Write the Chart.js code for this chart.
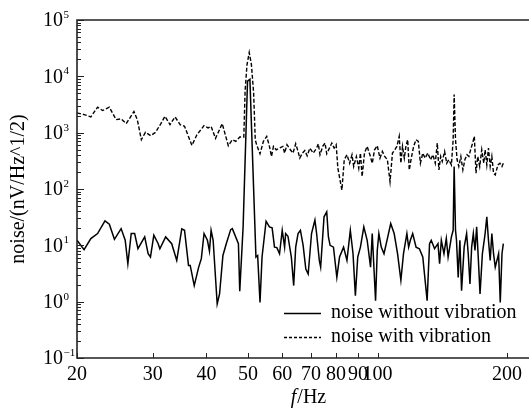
<!DOCTYPE html>
<html>
<head>
<meta charset="utf-8">
<script src="https://cdn.jsdelivr.net/npm/chart.js@4.4.1/dist/chart.umd.min.js"></script>
<style>
  body { margin: 0; background: #fff; }
  canvas { display: block; }
</style>
</head>
<body>
<canvas id="myChart" width="529" height="408"></canvas>
<script>
'use strict';

// noise without vibration (solid line)
var freqWithout = [20.0, 20.77, 21.54, 22.33, 23.23, 23.78, 24.44, 25.33, 25.89, 26.26, 26.74, 27.23, 27.72, 28.74, 29.27, 29.64, 30.18, 30.89, 31.17, 32.15,
  33.21, 34.12, 35.05, 35.57, 36.34, 36.67, 37.47, 38.37, 38.92, 39.49, 40.21, 40.65, 41.01, 41.46, 42.37, 42.91, 43.69, 44.48, 45.54, 45.95,
  47.47, 47.81, 48.68, 49.84, 50.48, 52.14, 52.62, 53.29, 53.87, 55.05, 56.05, 56.86, 57.59, 58.32, 59.16, 60.02, 60.79, 61.12, 61.89, 63.02,
  63.82, 64.51, 65.33, 66.16, 67.13, 68.10, 68.97, 70.22, 71.50, 72.15, 73.20, 73.73, 75.08, 76.17, 76.86, 77.56, 78.97, 80.41, 81.58, 83.36,
  84.88, 86.43, 87.69, 88.80, 89.93, 91.24, 92.90, 94.59, 96.32, 97.19, 98.94, 99.84, 100.7, 102.0, 103.5, 105.4, 107.3, 109.3, 111.3, 113.3,
  114.9, 117.0, 118.1, 119.2, 120.7, 122.9, 125.1, 127.4, 130.4, 132.1, 133.3, 135.7, 138.2, 139.4, 140.7, 142.7, 144.5, 145.9, 147.2, 148.5,
  149.9, 150.7, 151.8, 152.6, 154.0, 155.4, 156.8, 159.0, 161.1, 162.5, 164.0, 165.5, 167.0, 168.5, 170.0, 171.6, 173.1, 175.3, 177.9, 179.5,
  181.1, 182.8, 184.4, 186.1, 187.8, 189.5, 191.2, 192.9, 194.7, 196.1];
var noiseWithout = [12.3, 8.4, 13.2, 16.2, 27.2, 23.7, 12.8, 19.8, 12.3, 4.7, 16.2, 16.2, 8.7, 14.1, 7.1, 6.2, 15.1, 10.7, 8.7, 14.1,
  10.7, 5.4, 19.6, 18.5, 4.4, 4.4, 1.93, 4.1, 5.8, 16.2, 12.3, 7.9, 18.5, 12.3, 0.91, 1.37, 6.6, 10.7, 19.0, 19.8,
  10.7, 1.53, 21.3, 8200, 8840, 6.2, 6.6, 0.97, 6.2, 26.8, 21.3, 20.4, 9.3, 9.1, 7.1, 18.5, 9.3, 16.2, 14.5, 6.2,
  1.93, 9.3, 16.2, 18.5, 10.0, 3.8, 3.1, 16.2, 28.0, 16.2, 5.4, 4.1, 32.1, 39.4, 14.1, 10.0, 9.3, 2.7, 6.2, 9.3,
  5.4, 18.5, 7.1, 1.28, 6.2, 9.3, 21.3, 12.3, 4.1, 16.2, 1.04, 8.1, 16.2, 9.3, 7.1, 13.2, 24.4, 16.2, 7.1, 2.4,
  7.1, 16.2, 9.3, 12.3, 16.2, 9.3, 8.7, 6.2, 1.04, 10.7, 12.3, 8.7, 10.7, 4.7, 12.3, 7.1, 13.2, 6.2, 9.3, 14.1,
  18.5, 251, 18.5, 12.3, 2.7, 12.3, 1.57, 9.3, 16.2, 7.1, 2.07, 9.3, 16.2, 8.1, 21.3, 5.4, 1.37, 7.1, 16.2, 32.1,
  12.3, 5.4, 16.2, 7.1, 4.1, 5.4, 7.1, 0.97, 7.1, 10.7];

// noise with vibration (dashed line)
var freqWith = [20.0, 20.77, 21.54, 22.33, 22.94, 23.78, 24.66, 25.33, 26.03, 27.13, 27.62, 28.23, 28.85, 29.69, 30.45, 31.34, 32.03, 32.91, 33.81, 34.74,
  35.57, 37.0, 38.02, 39.49, 40.35, 41.01, 41.99, 43.53, 44.97, 45.95, 46.79, 47.81, 48.86, 49.2, 49.7, 50.3, 50.9, 51.5, 51.95, 52.33,
  53.29, 54.26, 55.24, 56.05, 56.66, 57.27, 58.11, 59.16, 60.24, 60.79, 61.56, 62.68, 63.59, 64.51, 65.33, 65.93, 66.88, 67.73, 68.60, 69.59,
  70.86, 72.15, 72.81, 73.47, 74.54, 75.49, 76.17, 77.28, 78.26, 79.26, 80.12, 80.85, 82.61, 83.66, 84.88, 86.12, 87.21, 88.00, 89.28, 90.42,
  91.24, 92.07, 93.24, 94.59, 95.97, 97.19, 98.41, 99.84, 101.3, 102.6, 103.9, 105.4, 106.9, 108.3, 109.7, 110.9, 112.3, 113.3, 114.3, 115.4,
  116.4, 117.5, 118.5, 119.6, 121.3, 122.9, 124.4, 125.8, 127.4, 129.0, 130.9, 132.8, 134.5, 136.2, 137.7, 138.9, 140.2, 141.4, 143.2, 144.8,
  146.4, 148.5, 149.9, 150.7, 151.8, 153.1, 154.5, 156.2, 157.9, 159.6, 161.4, 163.1, 164.6, 166.4, 167.9, 169.4, 171.0, 172.8, 174.7, 176.6,
  177.9, 179.5, 181.1, 182.8, 184.4, 186.1, 187.8, 190.5, 192.6, 194.7, 196.1];
var noiseWith = [2245, 2096, 1905, 2835, 2472, 2835, 1707, 1754, 1448, 2371, 1707, 750, 1014, 884, 1014, 1448, 1957, 1390, 1905, 1390,
  1298, 594, 921, 1334, 1212, 1298, 792, 1448, 586, 750, 700, 837, 837, 5500, 16000, 26460, 16000, 5000, 750, 611,
  422, 700, 860, 570, 378, 570, 497, 532, 570, 434, 611, 497, 434, 636, 464, 353, 434, 484, 388, 532,
  434, 532, 636, 405, 570, 654, 422, 532, 654, 532, 611, 234, 96, 330, 405, 287, 405, 251, 378, 234,
  434, 166, 434, 570, 405, 287, 497, 586, 353, 464, 378, 330, 135, 434, 497, 570, 860, 287, 570, 353,
  570, 750, 218, 330, 570, 750, 700, 287, 434, 353, 434, 330, 405, 287, 654, 218, 378, 308, 464, 287,
  330, 268, 750, 4770, 750, 330, 251, 378, 218, 330, 405, 378, 497, 654, 860, 190, 378, 251, 497, 287,
  497, 268, 532, 251, 378, 190, 178, 268, 287, 251, 287];

// axis ticks
var xTickValues = [20, 30, 40, 50, 60, 70, 80, 90, 100, 200];
var yDecades = [-1, 0, 1, 2, 3, 4, 5];

var serif = '"Liberation Serif", "Times New Roman", serif';

function toPoints(xs, ys) {
  var pts = [];
  for (var i = 0; i < xs.length; i++) {
    pts.push({ x: xs[i], y: ys[i] });
  }
  return pts;
}

// draws frame, inward ticks, labels, titles and legend
var decorPlugin = {
  id: 'decor',
  afterDraw: function (chart) {
    var ctx = chart.ctx;
    var area = chart.chartArea;
    var xs = chart.scales.x;
    var ys = chart.scales.y;
    ctx.save();

    // frame
    ctx.strokeStyle = '#222';
    ctx.lineWidth = 1.6;
    ctx.beginPath();
    ctx.moveTo(area.right, area.top);
    ctx.lineTo(area.left, area.top);
    ctx.lineTo(area.left, area.bottom);
    ctx.lineTo(area.right, area.bottom);
    ctx.stroke();

    // y ticks (major + minor)
    ctx.lineWidth = 1;
    ctx.beginPath();
    for (var d = 0; d < yDecades.length; d++) {
      var base = Math.pow(10, yDecades[d]);
      var py = Math.round(ys.getPixelForValue(base)) + 0.5;
      ctx.moveTo(area.left, py);
      ctx.lineTo(area.left + 7, py);
      if (d < yDecades.length - 1) {
        for (var m = 2; m <= 9; m++) {
          var my = Math.round(ys.getPixelForValue(base * m)) + 0.5;
          ctx.moveTo(area.left, my);
          ctx.lineTo(area.left + 4, my);
        }
      }
    }
    // x ticks
    for (var t = 0; t < xTickValues.length; t++) {
      var px = Math.round(xs.getPixelForValue(xTickValues[t])) + 0.5;
      ctx.moveTo(px, area.bottom);
      ctx.lineTo(px, area.bottom - 5);
    }
    ctx.stroke();

    // y labels 10^n
    ctx.fillStyle = '#000';
    ctx.textBaseline = 'middle';
    for (var k = 0; k < yDecades.length; k++) {
      var ly = ys.getPixelForValue(Math.pow(10, yDecades[k]));
      ctx.font = '20px ' + serif;
      ctx.textAlign = 'right';
      ctx.fillText('10', 63, ly + 1);
      ctx.font = '11px ' + serif;
      ctx.textAlign = 'left';
      ctx.fillText(String(yDecades[k]).replace('-', '\u2212'), 63.5, ly - 5);
    }

    // x labels
    ctx.font = '20px ' + serif;
    ctx.textAlign = 'center';
    ctx.textBaseline = 'top';
    for (var j = 0; j < xTickValues.length; j++) {
      ctx.fillText(String(xTickValues[j]), xs.getPixelForValue(xTickValues[j]), area.bottom + 7);
    }

    // x title: f/Hz with italic f
    ctx.textAlign = 'left';
    ctx.font = 'italic 20px ' + serif;
    var fW = ctx.measureText('f').width;
    ctx.font = '20px ' + serif;
    var rest = '/Hz';
    var restW = ctx.measureText(rest).width;
    var startX = 308 - (fW + restW) / 2;
    ctx.font = 'italic 20px ' + serif;
    ctx.fillText('f', startX, 388);
    ctx.font = '20px ' + serif;
    ctx.fillText(rest, startX + fW + 1, 388);

    // y title
    ctx.save();
    ctx.translate(19, 189);
    ctx.rotate(-Math.PI / 2);
    ctx.textAlign = 'center';
    ctx.textBaseline = 'middle';
    ctx.font = '20px ' + serif;
    ctx.fillText('noise/(nV/Hz^1/2)', 0, 0);
    ctx.restore();

    // legend
    var rows = [
      { label: 'noise without vibration', dash: [], y: 313 },
      { label: 'noise with vibration', dash: [3, 2], y: 337 }
    ];
    ctx.font = '20px ' + serif;
    ctx.textAlign = 'left';
    ctx.textBaseline = 'middle';
    for (var r = 0; r < rows.length; r++) {
      ctx.beginPath();
      ctx.setLineDash(rows[r].dash);
      ctx.lineWidth = 1.3;
      ctx.strokeStyle = '#000';
      ctx.moveTo(284, rows[r].y + 0.5);
      ctx.lineTo(321, rows[r].y + 0.5);
      ctx.stroke();
      ctx.setLineDash([]);
      ctx.fillText(rows[r].label, 331, rows[r].y);
    }
    ctx.restore();
  }
};

var ctx = document.getElementById('myChart').getContext('2d');
var chart = new Chart(ctx, {
  type: 'line',
  data: {
    datasets: [{
      label: 'noise without vibration',
      data: toPoints(freqWithout, noiseWithout),
      borderColor: '#000',
      borderWidth: 1.5,
      pointRadius: 0,
      tension: 0,
      fill: false
    },
    {
      label: 'noise with vibration',
      data: toPoints(freqWith, noiseWith),
      borderColor: '#000',
      borderWidth: 1.4,
      borderDash: [4, 2],
      pointRadius: 0,
      tension: 0,
      fill: false
    }]
  },
  options: {
    responsive: false,
    animation: false,
    layout: {
      padding: { left: 77, top: 20, right: 0, bottom: 50 }
    },
    plugins: {
      legend: { display: false },
      tooltip: { enabled: false }
    },
    scales: {
      x: {
        type: 'logarithmic',
        min: 20,
        max: 225,
        display: false
      },
      y: {
        type: 'logarithmic',
        min: 0.1,
        max: 100000,
        display: false
      }
    }
  },
  plugins: [decorPlugin]
});
</script>
</body>
</html>
